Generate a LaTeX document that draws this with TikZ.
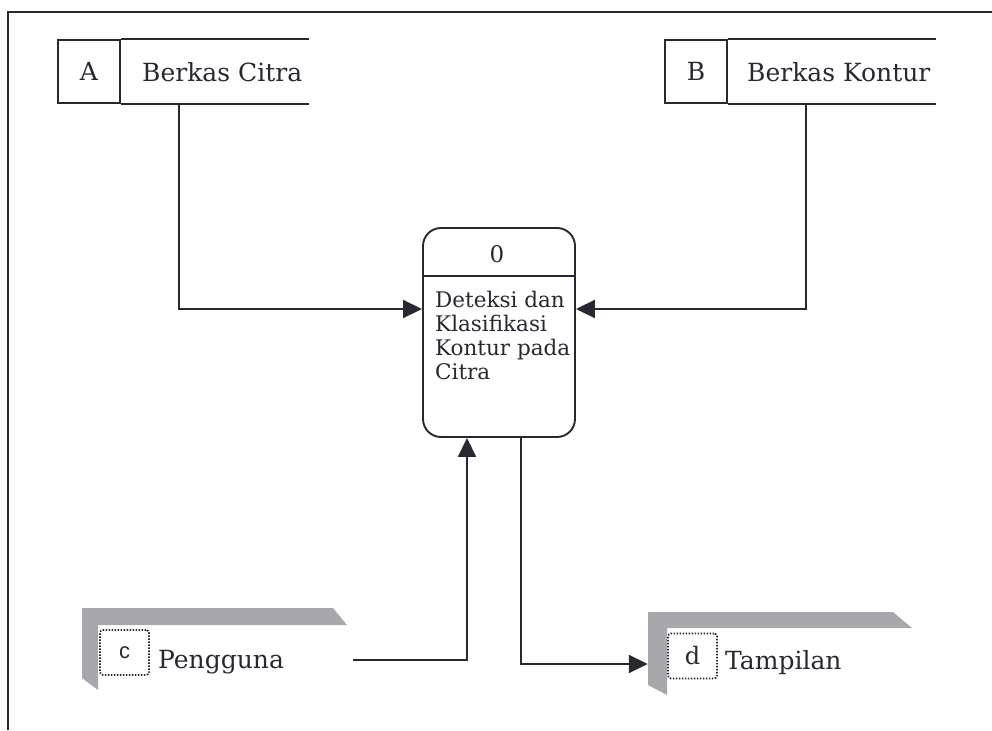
\documentclass[tikz,border=0pt]{standalone}
\usepackage{fontspec}
\setmainfont{DejaVu Serif}
\newfontfamily\idfont{Liberation Sans}
\usetikzlibrary{arrows.meta,calc}
\definecolor{ink}{RGB}{40,40,50}
\definecolor{shadow}{RGB}{168,168,172}

\begin{document}
\begin{tikzpicture}[x=1pt,y=-1pt,
  line/.style={draw=ink,line width=1.9pt},
  flow/.style={line,-{Triangle[length=19pt,width=18pt]}},
  idcell/.style={draw=ink,line width=1.9pt,minimum width=62pt,minimum height=63pt,
    inner sep=0pt,text=ink,font=\fontsize{25}{25}\selectfont},
  txt/.style={inner sep=0pt,anchor=base west,text=ink,font=\fontsize{25}{25}\selectfont},
  enttxt/.style={txt,font=\fontsize{25}{25}\selectfont},
  dotbox/.style={draw=ink,line width=1.7pt,dash pattern=on 1.5pt off 1.5pt,
    rounded corners=3pt,minimum width=49pt,minimum height=45pt,inner sep=0pt,text=ink},
  band/.style={fill=shadow,draw=none},
]
\useasboundingbox (0,0) rectangle (992,730);

% outer frame (left and top edges)
\draw[line] (8,730) -- (8,12) -- (992,12);

% data store A
\node[idcell] (idA) at (89,71.5) {A};
\node[txt] (lblA) at (142,82) {Berkas Citra};
\draw[line] (idA.north east) -- ++(188,0);
\draw[line] (idA.south east) -- ++(188,0);

% data store B
\node[idcell] (idB) at (696,71.5) {B};
\node[txt] (lblB) at (747,82) {Berkas Kontur};
\draw[line] (idB.north east) -- ++(208,0);
\draw[line] (idB.south east) -- ++(208,0);

% process 0
\node[draw=ink,line width=1.9pt,rounded corners=18pt,minimum width=152pt,
  minimum height=209pt,inner sep=0pt] (proc) at (499,332.5) {};
\draw[line] ([yshift=-49pt]proc.north west) -- ([yshift=-49pt]proc.north east);
\node[txt,anchor=base,font=\fontsize{23}{23}\selectfont] (pid) at (497,262) {0};
\node[inner sep=0pt,anchor=north west,align=left,text=ink,
  font=\fontsize{21.5}{24}\selectfont] (pname) at (435,291)
  {Deteksi dan\\Klasifikasi\\Kontur pada\\Citra};

% external entity c
\node[minimum width=265pt,minimum height=82pt,inner sep=0pt] (entC) at (214.5,649) {};
\fill[band] (82,608) -- (333,608) -- (347,625) -- (98,625) -- (98,690) -- (82,678) -- cycle;
\node[dotbox,font=\idfont\fontsize{22}{22}\selectfont] (idC) at (124.5,652.5) {c};
\node[enttxt] (lblC) at (158,668) {Pengguna};
\coordinate (cOut) at (353,660);

% external entity d
\node[minimum width=264pt,minimum height=83pt,inner sep=0pt] (entD) at (780,653.5) {};
\fill[band] (648,612) -- (893,612) -- (912,628) -- (667,628) -- (667,695) -- (648,685) -- cycle;
\node[dotbox,font=\fontsize{24}{24}\selectfont] (idD) at (692.5,656) {d};
\node[enttxt] (lblD) at (725,669) {Tampilan};

% data flows
\draw[flow] ([xshift=58pt]idA.south east) |- ([yshift=23.5pt]proc.west);
\draw[flow] ([xshift=78pt]idB.south east) |- ([yshift=23.5pt]proc.east);
\draw[flow] (cOut) -| ([xshift=-32pt]proc.south);
\draw[flow] ([xshift=22pt]proc.south) |- ([yshift=-10.5pt]entD.west);
\end{tikzpicture}
\end{document}
